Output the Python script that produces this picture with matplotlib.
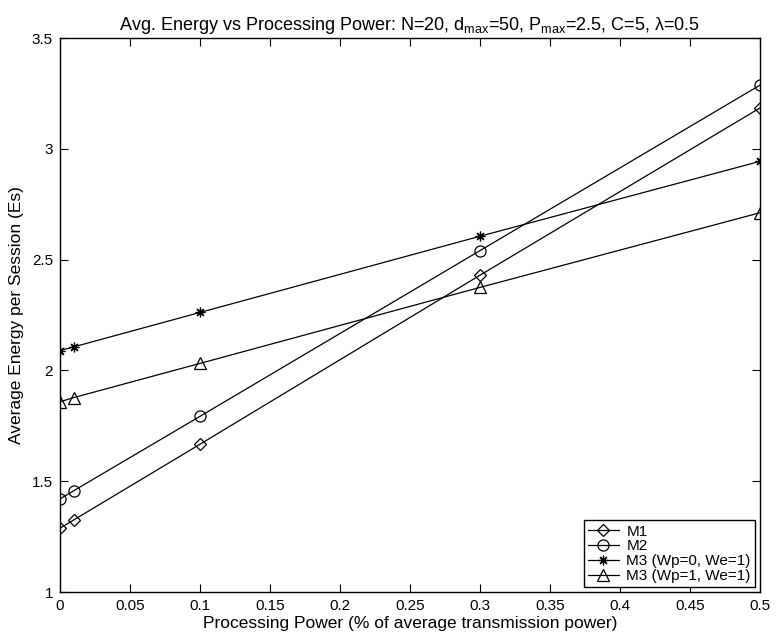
import matplotlib.pyplot as plt

plt.rcParams['font.family'] = ['Liberation Sans', 'DejaVu Sans']

# processing power levels (fraction of average transmission power)
x = [0, 0.01, 0.1, 0.3, 0.5]

# average energy per session for each method
m1 = [1.288, 1.326, 1.667, 2.43, 3.185]
m2 = [1.42, 1.458, 1.793, 2.541, 3.288]
m3_wp0 = [2.09, 2.107, 2.262, 2.606, 2.944]
m3_wp1 = [1.859, 1.878, 2.032, 2.375, 2.712]

labels = ['M1', 'M2', 'M3 (Wp=0, We=1)', 'M3 (Wp=1, We=1)']

fig = plt.figure(figsize=(7.76, 6.41), dpi=100)
ax = fig.add_axes([0.0773, 0.0764, 0.902, 0.864])

common = dict(color='black', linewidth=0.9, markerfacecolor='none',
              markeredgecolor='black', markeredgewidth=0.9)
ax.plot(x, m1, marker='D', markersize=6, label=labels[0], **common)
ax.plot(x, m2, marker='o', markersize=8, label=labels[1], **common)
ax.plot(x, m3_wp0, marker=(8, 2, 0), markersize=7, label=labels[2], **common)
ax.plot(x, m3_wp1, marker='^', markersize=9, label=labels[3], **common)

ax.set_xlim(0, 0.5)
ax.set_ylim(1, 3.5)
ax.set_xticks([0, 0.05, 0.1, 0.15, 0.2, 0.25, 0.3, 0.35, 0.4, 0.45, 0.5])
ax.set_xticklabels(['0', '0.05', '0.1', '0.15', '0.2', '0.25', '0.3',
                    '0.35', '0.4', '0.45', '0.5'])
ax.set_yticks([1, 1.5, 2, 2.5, 3, 3.5])
ax.set_yticklabels(['1', '1.5', '2', '2.5', '3', '3.5'])
ax.tick_params(direction='in', top=True, right=True, length=6,
               labelsize=11, pad=5)
for s in ax.spines.values():
    s.set_linewidth(1.0)

ax.set_xlabel('Processing Power (% of average transmission power)',
              fontsize=12.5, labelpad=2)
ax.set_ylabel('Average Energy per Session (Es)', fontsize=12.5, labelpad=6)
ax.set_title(r'Avg. Energy vs Processing Power: N=20, d$_{\mathregular{max}}$=50, '
             r'P$_{\mathregular{max}}$=2.5, C=5, $\mathregular{\lambda}$=0.5',
             fontsize=13, pad=6)

leg = ax.legend(loc='lower right', fontsize=11, handlelength=2.0,
                borderaxespad=0.3, labelspacing=0.05, borderpad=0.3,
                handletextpad=0.5, fancybox=False, framealpha=1)
leg.get_frame().set_edgecolor('black')
leg.get_frame().set_linewidth(1.0)

fig.savefig('out.png', dpi=100)
